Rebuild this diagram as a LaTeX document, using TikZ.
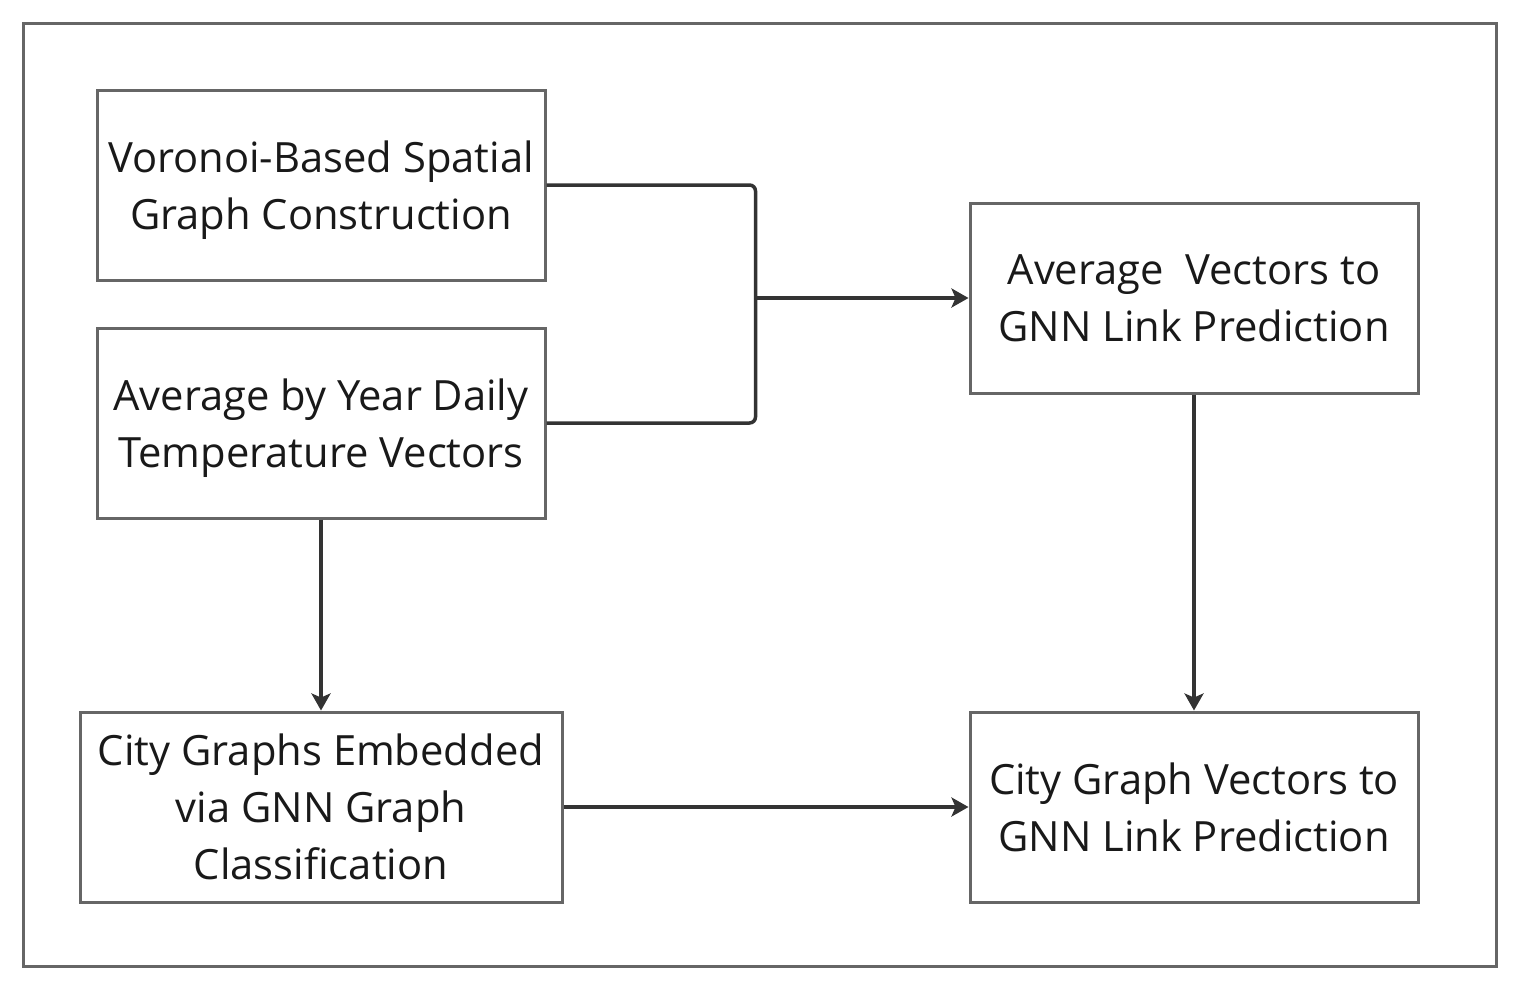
\documentclass[tikz,border=0pt]{standalone}
\usepackage{fontspec}
\setmainfont{Open Sans}
\usetikzlibrary{positioning}
\usetikzlibrary{calc}
\usetikzlibrary{arrows.meta}
\definecolor{boxgray}{HTML}{666666}
\definecolor{linedark}{HTML}{333333}
\tikzset{
	stage/.style={draw=boxgray, rectangle, line width=3pt, minimum width=448pt, minimum height=190pt, align=center, inner sep=0pt, text depth=0pt, font=\fontsize{41.7}{57}\selectfont, text=black!90},
	widestage/.style={stage, minimum width=482pt},
	% outer frame
	frame/.style={draw=boxgray, line width=3pt},
}

\begin{document}
\begin{tikzpicture}[x=1pt, y=-1pt]
				\useasboundingbox (0,0) rectangle (1523,986);
				\draw[frame] (23,23) rectangle (1496,966);
				
				\node (vor) [stage] at (321,185) {Voronoi-Based Spatial\\Graph Construction};
				\node (year) [stage, below of=vor, node distance=238pt] {Average by Year Daily\\Temperature Vectors};
				\node (city) [widestage, below of=year, node distance=384pt] {City Graphs Embedded\\via GNN Graph\\Classification};
				
				\node (avg) [stage, right of=vor, node distance=873pt, yshift=-113pt] {Average\ \ Vectors to\\GNN Link Prediction};
				\node (cvec) [stage, right of=city, node distance=873pt] {City Graph Vectors to\\GNN Link Prediction};
				
				% junction
				\coordinate (jn) at ($(avg.west)+(-213pt,0)$);
				
				\begin{scope}[line width=3.5pt, linedark, >={Stealth[length=17pt, width=19pt, inset=4pt]}]
					\draw[rounded corners=6pt] (vor.east) -| (jn);
					\draw[rounded corners=6pt] (year.east) -| (jn);
					\draw[->] (jn) -- (avg);
					\draw[->] (year) -- (city);
					\draw[->] (avg) -- (cvec);
					\draw[->] (city) -- (cvec);
				\end{scope}
			\end{tikzpicture}
\end{document}
